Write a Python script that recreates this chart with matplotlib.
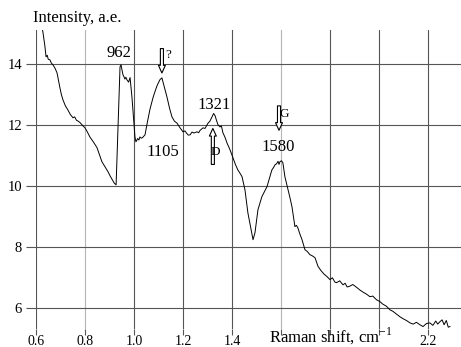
import matplotlib
matplotlib.use("Agg")
import matplotlib.pyplot as plt

plt.rcParams['font.family'] = ['Liberation Serif', 'DejaVu Serif']
plt.rcParams['mathtext.fontset'] = 'custom'
plt.rcParams['mathtext.rm'] = 'Liberation Serif'

# Raman spectrum, shift in 10^3 cm^-1
shift = [0.625, 0.629, 0.636, 0.641, 0.646, 0.650, 0.657, 0.663, 0.669, 0.678,
         0.686, 0.692, 0.698, 0.704, 0.710, 0.720, 0.730, 0.740, 0.751, 0.758,
         0.765, 0.772, 0.780, 0.790, 0.800, 0.810, 0.820, 0.834, 0.849, 0.859,
         0.869, 0.882, 0.894, 0.904, 0.914, 0.920, 0.927, 0.935, 0.943, 0.947,
         0.951, 0.955, 0.959, 0.963, 0.967, 0.971, 0.978, 0.984, 0.992, 1.004,
         1.008, 1.015, 1.020, 1.024, 1.030, 1.035, 1.045, 1.055, 1.065, 1.078,
         1.087, 1.095, 1.106, 1.114, 1.125, 1.135, 1.145, 1.155, 1.165, 1.176,
         1.188, 1.200, 1.208, 1.215, 1.222, 1.229, 1.237, 1.245, 1.257, 1.264,
         1.270, 1.282, 1.290, 1.302, 1.310, 1.315, 1.325, 1.331, 1.337, 1.343,
         1.351, 1.357, 1.363, 1.371, 1.380, 1.392, 1.404, 1.414, 1.424, 1.432,
         1.441, 1.453, 1.465, 1.478, 1.486, 1.494, 1.506, 1.514, 1.522, 1.532,
         1.543, 1.553, 1.563, 1.570, 1.576, 1.582, 1.588, 1.592, 1.596, 1.602,
         1.608, 1.616, 1.629, 1.637, 1.645, 1.657, 1.663, 1.669, 1.678, 1.686,
         1.698, 1.708, 1.718, 1.728, 1.739, 1.745, 1.751, 1.763, 1.776, 1.788,
         1.800, 1.810, 1.820, 1.827, 1.840, 1.853, 1.862, 1.870, 1.880, 1.893,
         1.910, 1.922, 1.937, 1.950, 1.963, 1.975, 1.990, 2.004, 2.015, 2.030,
         2.045, 2.057, 2.070, 2.086, 2.098, 2.112, 2.127, 2.140, 2.153, 2.167,
         2.180, 2.194, 2.208, 2.220, 2.232, 2.240, 2.249, 2.258, 2.266, 2.275,
         2.283, 2.290]
intensity = [15.20, 15.00, 14.60, 14.23, 14.28, 14.15, 14.13, 14.02, 13.97, 13.85,
             13.70, 13.45, 13.20, 12.98, 12.82, 12.62, 12.49, 12.34, 12.23, 12.26,
             12.15, 12.12, 12.07, 11.98, 11.90, 11.76, 11.60, 11.44, 11.25, 11.02,
             10.79, 10.62, 10.46, 10.30, 10.16, 10.08, 10.03, 12.00, 13.90, 13.97,
             13.80, 13.64, 13.58, 13.50, 13.56, 13.48, 13.40, 13.55, 12.88, 11.60,
             11.44, 11.55, 11.50, 11.60, 11.56, 11.58, 11.67, 12.10, 12.50, 12.90,
             13.12, 13.30, 13.48, 13.54, 13.20, 12.90, 12.55, 12.26, 12.12, 12.05,
             11.90, 11.77, 11.80, 11.72, 11.66, 11.67, 11.76, 11.73, 11.77, 11.74,
             11.82, 11.90, 11.88, 12.05, 12.12, 12.20, 12.37, 12.30, 12.14, 12.00,
             11.93, 11.96, 11.74, 11.60, 11.40, 11.18, 10.92, 10.70, 10.52, 10.42,
             10.30, 9.87, 9.11, 8.56, 8.23, 8.46, 9.21, 9.42, 9.64, 9.80,
             9.97, 10.25, 10.52, 10.60, 10.69, 10.72, 10.80, 10.70, 10.79, 10.82,
             10.75, 10.30, 9.87, 9.60, 9.31, 8.66, 8.70, 8.62, 8.40, 8.23,
             7.90, 7.84, 7.74, 7.70, 7.64, 7.50, 7.36, 7.22, 7.10, 7.02,
             6.92, 6.98, 6.84, 6.82, 6.88, 6.75, 6.80, 6.68, 6.70, 6.76,
             6.66, 6.58, 6.50, 6.44, 6.36, 6.38, 6.26, 6.20, 6.12, 6.05,
             5.93, 5.88, 5.80, 5.70, 5.64, 5.58, 5.50, 5.46, 5.52, 5.44,
             5.38, 5.48, 5.50, 5.42, 5.56, 5.46, 5.54, 5.60, 5.44, 5.58,
             5.36, 5.38]

xticks = [0.6, 0.8, 1.0, 1.2, 1.4, 1.6, 1.8, 2.0, 2.2]
xtick_labels = ["0.6", "0.8", "1.0", "1.2", "1.4", "", "", "", "2.2"]
yticks = [6, 8, 10, 12, 14]

# peak labels: (text, x, y, fontsize)
peak_labels = [("962", 0.939, 14.36, 12),
               ("1105", 1.118, 11.11, 12),
               ("1321", 1.327, 12.66, 12),
               ("1580", 1.588, 11.28, 12)]
# hollow arrows: (tail x, tail y, tip x, tip y, letter, letter x, letter y)
arrows = [(1.114, 14.50, 1.114, 13.70, "?", 1.138, 14.28),
          (1.322, 10.70, 1.322, 11.88, "D", 1.334, 11.12),
          (1.592, 12.62, 1.592, 11.82, "G", 1.615, 12.36)]

fig = plt.figure(figsize=(4.61, 3.47), dpi=100)
ax = fig.add_axes([36 / 461, 1 - 329 / 347, 1 - 36 / 461, 299 / 347])

ax.plot(shift, intensity, color="black", lw=0.7)

ax.set_xlim(0.6, 2.335)
ax.set_ylim(5.3, 15.11)
ax.set_xticks(xticks)
ax.set_xticklabels(xtick_labels)
ax.set_yticks(yticks)
for s in ax.spines.values():
    s.set_visible(False)
ax.grid(True, color="#555555", lw=0.8)
ax.tick_params(axis="y", length=7, width=0.8, color="#555555", pad=3, labelsize=10.5)
ax.tick_params(axis="x", length=4, width=0.8, color="#555555", pad=0, labelsize=10)
for i, gl in enumerate(ax.get_xgridlines()):
    if xticks[i] in (0.8, 1.6):
        gl.set_color("#b5b5b5")

for txt, x, y, fs in peak_labels:
    ax.text(x, y, txt, ha="center", va="center", fontsize=fs)

for x0, y0, x1, y1, letter, lx, ly in arrows:
    ax.annotate("", xy=(x1, y1), xytext=(x0, y0),
                arrowprops=dict(arrowstyle="simple,head_width=0.5,head_length=0.55,tail_width=0.22",
                                fc="white", ec="black", lw=0.8, shrinkA=0, shrinkB=0))
    ax.text(lx, ly, letter, ha="center", va="center", fontsize=9.5)

fig.text(33 / 461, 1 - 18 / 347, "Intensity, a.e.", ha="left", va="center", fontsize=12)
fig.text(269 / 461, 1 - 336 / 347, r"Raman shift, cm$^{\mathregular{-1}}$",
         ha="left", va="center", fontsize=12)

fig.savefig("out.png", dpi=100)
